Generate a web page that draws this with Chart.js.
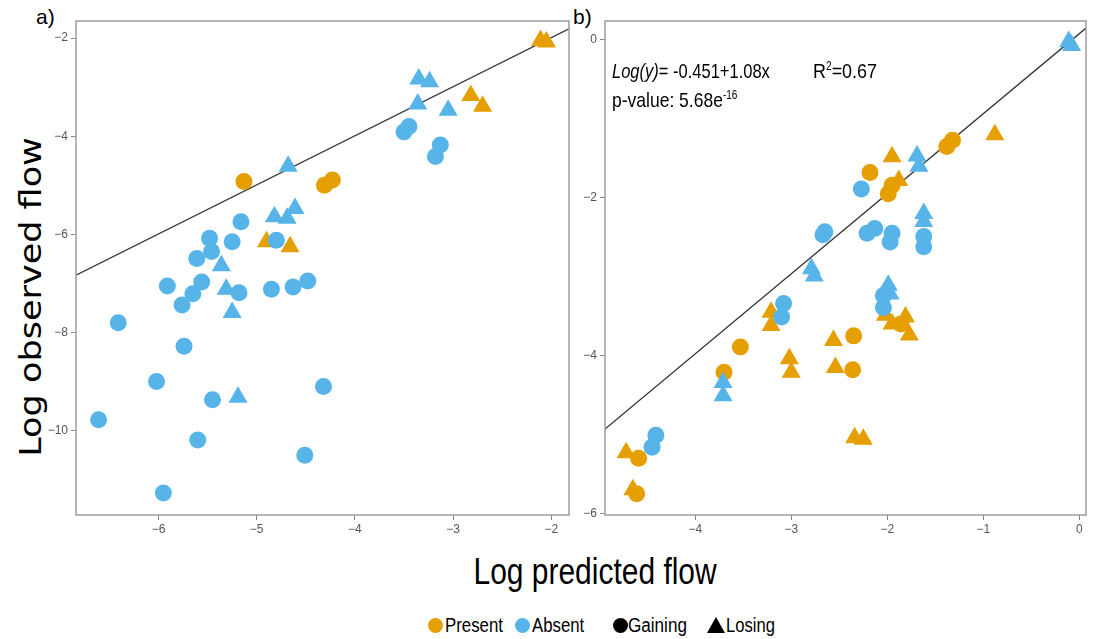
<!DOCTYPE html>
<html lang="en">
<head>
  <meta charset="UTF-8">
  <title>Log observed vs predicted flow</title>
  <script src="https://cdn.jsdelivr.net/npm/chart.js"></script>
  <style>
    body { margin: 0; background: #fff; width: 1097px; height: 639px; overflow: hidden; position: relative;
           font-family: "Liberation Sans", Arial, sans-serif; }
    .box { position: absolute; }
    .txt { position: absolute; white-space: nowrap; color: #000; transform-origin: left center; }
    .mid { position: absolute; white-space: nowrap; color: #000; transform-origin: center center; }
    .dot { position: absolute; width: 15px; height: 15px; border-radius: 50%; }
    .tri { position: absolute; width: 0; height: 0; border-left: 9px solid transparent; border-right: 9px solid transparent;
           border-bottom: 16px solid #000; }
  </style>
</head>
<body>
  <div id="yTitle" class="mid" style="font-size:31px;font-family:'DejaVu Sans',sans-serif;" data-w="320">Log observed flow</div>
  <div class="txt" style="left:36px;top:5px;font-size:21px;">a)</div>
  <div class="txt" style="left:573px;top:5px;font-size:21px;">b)</div>

  <div class="box" style="left:20px;top:0;width:560px;height:545px;"><canvas id="chartA"></canvas></div>
  <div class="box" style="left:575px;top:0;width:522px;height:545px;"><canvas id="chartB"></canvas></div>

  <div class="txt" style="left:612px;top:59px;font-size:21px;" data-w="158"><i>Log(y)</i>= -0.451+1.08x</div>
  <div class="txt" style="left:813px;top:59px;font-size:21px;" data-w="64">R<sup style="font-size:12px">2</sup>=0.67</div>
  <div class="txt" style="left:612px;top:88px;font-size:21px;" data-w="125">p-value: 5.68e<sup style="font-size:12px">-16</sup></div>

  <div id="xTitle" class="mid" style="font-size:36px;" data-w="243">Log predicted flow</div>

  <span class="dot" style="left:428px;top:618px;background:#E69F00"></span>
  <div class="txt" style="left:445px;top:614px;font-size:20px;" data-w="58">Present</div>
  <span class="dot" style="left:515px;top:618px;background:#56B4E9"></span>
  <div class="txt" style="left:532px;top:614px;font-size:20px;" data-w="52">Absent</div>
  <span class="dot" style="left:613px;top:618px;background:#000"></span>
  <div class="txt" style="left:628px;top:614px;font-size:20px;" data-w="59">Gaining</div>
  <span class="tri" style="left:707px;top:617px;"></span>
  <div class="txt" style="left:726px;top:614px;font-size:20px;" data-w="49">Losing</div>

  <script>
    const ORANGE = '#E69F00';
    const BLUE = '#56B4E9';

    // panel a) [log predicted, log observed]
    const aPresentGaining = [[-5.13, -4.92], [-4.31, -5.00], [-4.23, -4.89]];
    const aPresentLosing = [[-2.11, -2.05], [-2.05, -2.08], [-2.82, -3.17], [-2.70, -3.39], [-4.90, -6.15], [-4.66, -6.25]];
    const aAbsentGaining = [
      [-3.50, -3.91], [-3.45, -3.80], [-3.13, -4.18], [-3.18, -4.41], [-5.16, -5.74], [-4.80, -6.12],
      [-5.48, -6.08], [-5.25, -6.15], [-5.46, -6.35], [-5.61, -6.49], [-5.91, -7.05], [-5.56, -6.97],
      [-5.18, -7.19], [-5.65, -7.21], [-5.76, -7.44], [-4.85, -7.12], [-4.63, -7.07], [-4.48, -6.95],
      [-6.41, -7.80], [-5.74, -8.28], [-6.02, -9.00], [-5.45, -9.37], [-4.32, -9.10], [-6.61, -9.78],
      [-5.60, -10.19], [-4.51, -10.50], [-5.95, -11.27]
    ];
    const aAbsentLosing = [
      [-3.35, -2.83], [-3.24, -2.89], [-3.36, -3.34], [-3.05, -3.47], [-4.68, -4.61], [-4.82, -5.64],
      [-4.69, -5.67], [-4.61, -5.47], [-5.36, -6.64], [-5.31, -7.12], [-5.25, -7.59], [-5.19, -9.32]
    ];
    const aLineX = [-6.84, -1.82];
    const aLineY = [-6.83, -1.81];
    const aXTicks = [-6, -5, -4, -3, -2];
    const aYTicks = [-2, -4, -6, -8, -10];

    // panel b)
    const bPresentGaining = [
      [-1.32, -1.27], [-1.38, -1.35], [-2.18, -1.68], [-1.95, -1.84], [-1.99, -1.95], [-3.53, -3.89],
      [-3.70, -4.21], [-1.86, -3.60], [-2.35, -3.75], [-2.36, -4.18], [-4.59, -5.30], [-4.61, -5.75]
    ];
    const bPresentLosing = [
      [-0.88, -1.20], [-1.95, -1.48], [-1.88, -1.78], [-3.21, -3.45], [-3.21, -3.62], [-2.02, -3.49],
      [-1.95, -3.60], [-1.81, -3.51], [-1.77, -3.74], [-3.02, -4.04], [-3.00, -4.21], [-2.56, -3.81],
      [-2.54, -4.15], [-2.34, -5.04], [-2.25, -5.06], [-4.72, -5.23], [-4.65, -5.70]
    ];
    const bAbsentGaining = [
      [-2.27, -1.89], [-1.62, -2.49], [-1.62, -2.62], [-2.67, -2.47], [-2.65, -2.43], [-2.21, -2.45],
      [-2.13, -2.39], [-1.95, -2.45], [-1.97, -2.56], [-3.08, -3.34], [-3.10, -3.51], [-2.04, -3.24],
      [-2.04, -3.39], [-4.41, -5.01], [-4.45, -5.16]
    ];
    const bAbsentLosing = [
      [-0.11, -0.02], [-0.08, -0.07], [-1.69, -1.47], [-1.67, -1.60], [-1.62, -2.20], [-1.62, -2.30],
      [-2.79, -2.90], [-2.76, -2.99], [-1.99, -3.11], [-1.97, -3.22], [-3.71, -4.34], [-3.71, -4.51]
    ];
    const bLineX = [-4.94, 0.07];
    const bLineY = [-4.93, 0.15];
    const bXTicks = [-4, -3, -2, -1, 0];
    const bYTicks = [0, -2, -4, -6];

    const toPts = arr => arr.map(p => ({ x: p[0], y: p[1] }));

    // squeeze text to the width it has in the original figure
    document.querySelectorAll('.txt[data-w]').forEach(el => {
      el.style.transform = 'scaleX(' + (el.dataset.w / el.offsetWidth) + ')';
    });
    const yT = document.getElementById('yTitle');
    yT.style.left = (30 - yT.offsetWidth / 2) + 'px';
    yT.style.top = (297 - yT.offsetHeight / 2) + 'px';
    yT.style.transform = 'rotate(-90deg) scaleX(' + (yT.dataset.w / yT.offsetWidth) + ')';
    const xT = document.getElementById('xTitle');
    xT.style.left = (595 - xT.offsetWidth / 2) + 'px';
    xT.style.top = (572 - xT.offsetHeight / 2) + 'px';
    xT.style.transform = 'scaleX(' + (xT.dataset.w / xT.offsetWidth) + ')';

    const framePlugin = {
      id: 'frame',
      afterDraw(chart) {
        const a = chart.chartArea, ctx = chart.ctx;
        ctx.save();
        ctx.strokeStyle = '#9c9c9c';
        ctx.lineWidth = 1.5;
        ctx.strokeRect(a.left, a.top, a.right - a.left, a.bottom - a.top);
        ctx.restore();
      }
    };

    function makePanel(id, sets, lineX, lineY, xr, yr, xTicks, yTicks, yWidth, padRight) {
      const pointSet = (data, color, style) => ({
        data: toPts(data),
        backgroundColor: color,
        borderColor: color,
        borderWidth: 0,
        pointStyle: style,
        pointRadius: style === 'triangle' ? 11 : 8.5,
        pointHoverRadius: style === 'triangle' ? 11 : 8.5
      });
      const tickStyle = {
        color: '#555',
        font: { family: "'Liberation Sans', Arial", size: 12 },
        callback: v => String(v).replace('-', '\u2212')
      };
      const gridStyle = { drawOnChartArea: false, drawTicks: true, tickLength: 5, color: '#888', lineWidth: 1 };
      return new Chart(document.getElementById(id), {
        type: 'scatter',
        data: {
          datasets: [
            pointSet(sets[2], BLUE, 'circle'),
            pointSet(sets[3], BLUE, 'triangle'),
            pointSet(sets[0], ORANGE, 'circle'),
            pointSet(sets[1], ORANGE, 'triangle'),
            {
              type: 'line',
              data: lineX.map((x, i) => ({ x, y: lineY[i] })),
              borderColor: '#333',
              borderWidth: 1.3,
              pointRadius: 0,
              fill: false
            }
          ]
        },
        options: {
          responsive: true,
          maintainAspectRatio: false,
          animation: false,
          events: [],
          layout: { padding: { top: 21, right: padRight, left: 0, bottom: 0 } },
          plugins: { legend: { display: false }, tooltip: { enabled: false } },
          scales: {
            x: {
              type: 'linear', min: xr[0], max: xr[1],
              grid: gridStyle, border: { display: false },
              ticks: Object.assign({ padding: 2, maxRotation: 0 }, tickStyle),
              afterBuildTicks: s => { s.ticks = xTicks.map(v => ({ value: v })); },
              afterFit: s => { s.height = 30; s.paddingLeft = 0; s.paddingRight = 0; }
            },
            y: {
              type: 'linear', min: yr[0], max: yr[1],
              grid: gridStyle, border: { display: false },
              ticks: Object.assign({ padding: 3 }, tickStyle),
              afterBuildTicks: s => { s.ticks = yTicks.map(v => ({ value: v })); },
              afterFit: s => { s.width = yWidth; s.paddingTop = 0; s.paddingBottom = 0; }
            }
          }
        },
        plugins: [framePlugin]
      });
    }

    makePanel('chartA', [aPresentGaining, aPresentLosing, aAbsentGaining, aAbsentLosing],
      aLineX, aLineY, [-6.84, -1.82], [-11.72, -1.65], aXTicks, aYTicks, 56, 11);
    makePanel('chartB', [bPresentGaining, bPresentLosing, bAbsentGaining, bAbsentLosing],
      bLineX, bLineY, [-4.94, 0.07], [-6.02, 0.24], bXTicks, bYTicks, 30, 1);
  </script>
</body>
</html>
